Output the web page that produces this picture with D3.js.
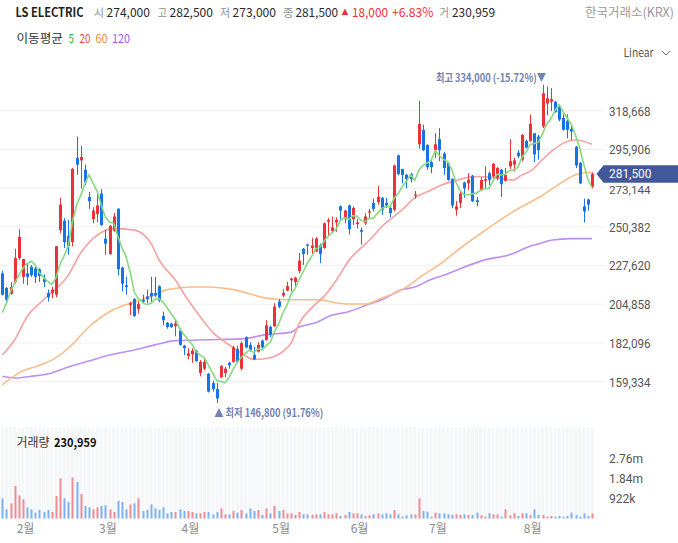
<!DOCTYPE html>
<html><head><meta charset="utf-8">
<script src="https://cdn.jsdelivr.net/npm/d3@7"></script>
<style>
html,body{margin:0;padding:0;background:#fff;}
svg{display:block;}
</style></head><body>
<svg id="chart" width="678" height="543"></svg>
<script>
// ---------------- DATA ----------------
const stockName = "LS ELECTRIC";
const exchangeName = "한국거래소(KRX)";
const lastOpen = 274000, lastHigh = 282500, lastLow = 273000, lastClose = 281500;
const lastChange = 18000, lastChangePct = 6.83, lastVolume = 230959;
const periodHigh = 334000, periodHighPct = -15.72;
const periodLow = 146800, periodLowPct = 91.76;
const maPeriods = [5, 20, 60, 120];

const opens = [223000,214500,211000,218000,232000,221000,223000,227000,226000,225500,220000,211500,211500,210500,248500,254000,245000,241500,291000,289500,284000,268000,255000,258000,270000,243500,234500,248000,261000,226500,216000,204500,208000,202000,207500,209500,211500,211500,215500,198000,194000,193500,192000,189500,180500,174500,175500,177500,164500,167000,164000,158500,155000,162000,164500,170500,171000,178500,167000,185500,181000,175000,177000,183500,184000,191500,192000,206500,210000,213000,219000,218000,224500,237500,240000,238000,236000,239500,238000,253500,248000,253000,262500,255000,263000,255000,252000,248500,252500,259000,264500,265000,267500,264500,261500,260500,292500,284500,281000,281500,269000,299000,307500,298500,288500,295500,302000,293500,288000,278500,260500,264500,276500,276000,280500,266000,272000,277500,282000,280000,279000,284000,277500,286000,287000,294000,290000,301000,301000,305500,303500,309500,323000,324000,324000,321000,314500,312500,308000,297500,288000,262500,266500,274000];
const highs = [224500,215000,218000,237500,249000,231500,229000,228000,227000,226000,222500,213500,215000,239000,267500,255500,254500,285000,303500,298000,287000,271000,262000,271000,272500,248500,251500,258500,261500,227000,221000,206500,208500,206500,210500,213500,221000,221000,216000,200500,194500,194000,195500,191000,181000,179000,179000,178000,172000,172500,164500,160000,158500,169000,168000,171000,180500,180500,183000,186000,182500,180000,182500,184000,195500,192500,205500,208000,213500,218000,220500,221000,235000,238000,240500,244000,244500,240500,253000,255500,256500,256000,263000,260500,263500,262500,255000,250000,258500,261000,267000,274500,268000,267500,262500,287000,293000,284500,281500,282000,271500,324500,310500,299000,291000,305500,308500,294500,288000,279000,265500,271000,277000,282000,281000,268000,279500,286000,283000,288000,285500,284500,285000,302000,291000,295500,305000,301500,316500,305500,304500,334000,333000,332000,324500,322000,316500,316500,309500,298000,288500,267000,267000,282500];
const lows = [210000,205500,210500,217000,231000,217000,216000,221000,217500,218000,215000,206500,208500,209000,246500,238000,234000,239000,281000,273000,275000,261000,252500,253000,251000,234000,234000,247500,222000,212500,210500,198500,197500,199500,205000,205500,205500,209000,206000,192500,190500,191000,186000,180500,175000,172500,170500,171000,162500,166000,153000,153500,146800,161500,162000,167000,170500,170500,166000,179000,177000,172000,176500,178500,183500,185500,191500,202500,209000,212500,212500,214500,223000,228000,234000,234000,235500,229000,237500,244500,247000,247500,254500,252500,246000,251500,249500,240000,251500,255500,259500,263500,257500,261500,256000,259500,281000,276000,273000,276500,267000,296500,295000,284000,282000,291000,289000,281000,277500,261500,257000,261500,267500,272000,265000,262500,271500,273000,275000,279500,278000,268000,277000,284500,283000,291000,289000,296500,300500,288500,290000,308500,316000,318500,317500,312500,307000,302500,301500,285000,275500,253000,260000,273000];
const closes = [210500,207500,215000,232000,244500,231500,221000,222000,221000,221500,218000,209000,213500,239000,263500,241500,239000,284500,287000,291500,276500,265500,260000,263000,251500,240500,251000,256500,225500,217000,215000,205500,198000,205000,206500,208000,209500,210000,207000,195500,191500,191500,193500,181000,179000,176000,177500,171500,171000,171000,153500,155000,149500,168500,167000,169000,179500,171000,182000,179500,178000,172500,181000,179500,192500,187000,203500,203500,211500,215500,220000,220500,230500,234500,239500,239500,243500,234500,252500,254500,250000,254500,260000,260000,249000,261500,253000,247500,256500,259500,261000,268000,260500,263000,258500,286500,281500,281000,278500,278500,269500,311000,295500,285500,285500,299000,295500,285000,278000,263000,262500,270000,273000,278000,265500,265000,278000,278500,278000,287500,285000,275500,281000,289000,289500,292000,304500,297000,311000,293000,295500,329000,326000,325500,318000,313500,307500,307500,306500,286500,276000,259500,263500,281500];
const volumes = [917000,417000,689000,1477000,1053000,871000,508000,417000,265000,386000,295000,386000,295000,1023000,1826000,917000,750000,1871000,1659000,1114000,568000,508000,417000,508000,568000,599000,417000,295000,796000,750000,417000,644000,689000,917000,341000,386000,644000,462000,386000,508000,235000,295000,295000,417000,341000,341000,295000,235000,235000,295000,295000,189000,295000,462000,189000,189000,341000,265000,386000,235000,462000,341000,386000,159000,462000,235000,568000,341000,386000,235000,235000,159000,295000,189000,189000,159000,189000,189000,295000,189000,189000,235000,114000,159000,295000,235000,235000,189000,114000,144000,189000,235000,189000,235000,189000,386000,189000,83000,144000,189000,189000,917000,341000,311000,83000,265000,235000,235000,189000,159000,189000,159000,189000,159000,159000,265000,144000,83000,235000,189000,189000,83000,417000,144000,235000,114000,235000,235000,159000,417000,159000,159000,83000,114000,83000,114000,83000,114000,265000,159000,83000,235000,114000,230959];

// moving averages: MA5 from closes (first 4 values); MA20/60/120 at sample candles
const ma5Head = [200000,205500,212500,217500];
const ma20Idx = [0,3,6,10,16,19,23,27,32,36,38,42,45,48,51,55,58,61,64,68,70,72,76,78,81,84,89,92,97,100,103,107,109,115,120,124,126,128,131,133,136,139,143];
const ma20Val = [175000,184000,197500,207500,222000,235000,245500,249500,248500,241000,231000,219000,207500,197500,188500,181000,176000,172500,173000,177000,182000,193500,205000,209500,219000,230500,242500,250500,260500,267500,271000,275500,277000,280000,279000,278000,281000,283000,290000,294500,299500,301500,299000];
const ma60Idx = [0,4,9,12,16,21,26,31,36,40,46,50,56,64,69,76,84,88,92,97,102,107,109,116,124,131,136,139,142,143];
const ma60Val = [157500,164500,169000,172000,179000,191500,200500,205500,209500,213500,215000,215000,213500,208500,207500,207500,205000,205000,208500,213500,222000,230000,234000,246500,259500,269000,277000,281000,282500,282000];
const ma120Idx = [0,3,7,12,16,21,26,32,37,42,50,58,64,70,72,76,80,84,89,92,97,100,104,107,117,123,128,131,133,138,143];
const ma120Val = [162500,161500,162500,164500,168000,171500,175000,178000,181000,183500,184000,184500,187000,188500,191500,194000,198500,200500,205000,207500,213500,215000,219500,222000,231000,234000,239000,241000,242500,243500,243500];

const priceTicks = [159334,182096,204858,227620,250382,273144,295906,318668];
const volTicks = [921600,1843200,2764800];
const volTickLabels = ["922k","1.84m","2.76m"];
const monthIdx = [6,26,46,68,87,106,129];
const monthLabels = ["2월","3월","4월","5월","6월","7월","8월"];

// ---------------- DRAW ----------------
const FONT = '"Noto Sans CJK KR","Noto Sans",Roboto,sans-serif';
const NUMFONT = 'Roboto,"Noto Sans",sans-serif';
const RED = '#ec3138', BLUE = '#1874e6';
const VRED = '#f08c91', VBLUE = '#7cb1f2';
const MA_LINE = ['#86d97f','#f7a0a0','#f9bd8c','#bd8ef3'];
const MA_TXT = ['#2fb52f','#f5434b','#f0902a','#9d57f0'];
const N = closes.length;
const svg = d3.select('#chart').style('font-family', FONT);

const x = d3.scaleLinear().domain([0, N - 1]).range([2.3, 592]);
const step = x(1) - x(0);
const y = d3.scaleLinear().domain([priceTicks[0], priceTicks[priceTicks.length - 1]]).range([381.7, 110.8]);
const yv = d3.scaleLinear().domain([0, volTicks[volTicks.length - 1]]).range([518.5, 457.7]);

const fmt = d3.format(',');
function txt(parent, s, px, py, w, opts = {}) {
  const t = parent.append('text').attr('x', px).attr('y', py).text(s)
    .attr('font-size', opts.size || 12.5).attr('fill', opts.fill || '#333')
    .attr('font-weight', opts.weight || 400);
  if (opts.family) t.attr('font-family', opts.family);
  if (w) t.attr('textLength', w).attr('lengthAdjust', 'spacingAndGlyphs');
  if (opts.anchor) t.attr('text-anchor', opts.anchor);
  return t;
}

// layers
const gGrid = svg.append('g');
const gVol = svg.append('g');
const gSlowMA = svg.append('g');
const gC = svg.append('g');
const gFastMA = svg.append('g');
const gAxes = svg.append('g');
const gText = svg.append('g');

// header
const G = '#8e8e8e';
txt(gText, stockName, 15.5, 16.5, 68, {weight: 700, fill: '#1e1e1e', size: 12.5});
txt(gText, '시', 94, 16.5, 10, {fill: G, size: 11.5});
txt(gText, fmt(lastOpen), 106.5, 16.5, 43.5, {fill: '#2a2a2a'});
txt(gText, '고', 157.5, 16.5, 9.5, {fill: G, size: 11.5});
txt(gText, fmt(lastHigh), 169.5, 16.5, 43.5, {fill: '#2a2a2a'});
txt(gText, '저', 220, 16.5, 10, {fill: G, size: 11.5});
txt(gText, fmt(lastLow), 232.5, 16.5, 43.5, {fill: '#2a2a2a'});
txt(gText, '종', 283, 16.5, 10.5, {fill: G, size: 11.5});
txt(gText, fmt(lastClose), 295.5, 16.5, 42.5, {fill: '#2a2a2a'});
txt(gText, '▲', 341.5, 14.5, 7, {fill: RED, size: 8});
txt(gText, fmt(lastChange), 352, 16.5, 36, {fill: RED});
txt(gText, '+' + lastChangePct.toFixed(2) + '%', 392, 16.5, 41.5, {fill: RED});
txt(gText, '거', 439.5, 16.5, 9.5, {fill: G, size: 11.5});
txt(gText, fmt(lastVolume), 452, 16.5, 43, {fill: '#2a2a2a'});
txt(gText, exchangeName, 585, 16.5, 89, {fill: '#9a9a9a'});

// legend
txt(gText, '이동평균', 16.5, 43, 46.5, {size: 12, fill: '#333'});
const legX = [68.5, 79.5, 95.5, 112], legW = [5.5, 11, 12, 18];
maPeriods.forEach((p, k) => txt(gText, String(p), legX[k], 43, legW[k], {size: 12, fill: MA_TXT[k]}));

// Linear selector
txt(gText, 'Linear', 623.5, 56.5, 30, {size: 11.5, fill: '#555'});
gText.append('path').attr('d', 'M662,51 L666,55 L670,51').attr('fill', 'none').attr('stroke', '#666').attr('stroke-width', 1);

// gridlines
gGrid.selectAll('line').data(priceTicks).join('line')
  .attr('x1', 0).attr('x2', 605).attr('y1', d => y(d)).attr('y2', d => y(d))
  .attr('stroke', '#eef0f3').attr('stroke-width', 1);

// volume pane columns
gGrid.selectAll('rect').data(d3.range(N)).join('rect')
  .attr('x', i => x(i) - step / 2 + 0.6).attr('width', step - 1.1)
  .attr('y', 427).attr('height', 91.5).attr('fill', '#f5f6fa');

const up = i => closes[i] >= opens[i];

// volume bars
gVol.selectAll('rect').data(d3.range(N)).join('rect')
  .attr('x', i => Math.round(x(i)) - 0.5).attr('width', 2)
  .attr('y', i => yv(volumes[i])).attr('height', i => yv(0) - yv(volumes[i]))
  .attr('fill', i => up(i) ? VRED : VBLUE);

// MA lines
const lineGen = d3.line().x(d => x(d[0])).y(d => y(d[1]));
const ma5 = closes.map((c, i) => i < 4 ? ma5Head[i] : d3.mean(closes.slice(i - 4, i + 1)));
const maSeries = [
  ma5.map((v, i) => [i, v]),
  ma20Idx.map((i, k) => [i, ma20Val[k]]),
  ma60Idx.map((i, k) => [i, ma60Val[k]]),
  ma120Idx.map((i, k) => [i, ma120Val[k]])
];
[3, 2, 1].forEach(k => {
  gSlowMA.append('path').attr('d', lineGen.curve(d3.curveMonotoneX)(maSeries[k]))
    .attr('fill', 'none').attr('stroke', MA_LINE[k]).attr('stroke-width', 1.6);
});
gFastMA.append('path').attr('d', lineGen.curve(d3.curveLinear)(maSeries[0]))
  .attr('fill', 'none').attr('stroke', MA_LINE[0]).attr('stroke-width', 1.6);

// candles
gC.selectAll('rect.w').data(d3.range(N)).join('rect').attr('class', 'w')
  .attr('x', i => Math.round(x(i))).attr('width', 1)
  .attr('y', i => y(highs[i])).attr('height', i => Math.max(1, y(lows[i]) - y(highs[i])))
  .attr('fill', i => up(i) ? RED : BLUE);
gC.selectAll('rect.b').data(d3.range(N)).join('rect').attr('class', 'b')
  .attr('x', i => Math.round(x(i)) - 1).attr('width', 3)
  .attr('y', i => y(Math.max(opens[i], closes[i])))
  .attr('height', i => Math.max(1.2, Math.abs(y(opens[i]) - y(closes[i]))))
  .attr('fill', i => up(i) ? RED : BLUE);

// price axis (right)
const yAxis = gAxes.append('g').attr('transform', 'translate(609,0)')
  .call(d3.axisRight(y).tickValues(priceTicks).tickSize(0).tickPadding(0).tickFormat(fmt));
yAxis.select('.domain').remove();
yAxis.selectAll('text').attr('font-size', 12).attr('fill', '#555').attr('font-family', NUMFONT)
  .attr('dy', '0.36em').attr('textLength', 41.5).attr('lengthAdjust', 'spacingAndGlyphs');
// the label sitting just under the current-price tag
yAxis.selectAll('.tick').filter(d => Math.abs(y(d) - y(lastClose)) < 16)
  .select('text').attr('dy', '0.47em').attr('font-size', 11.5);

// volume axis
const vAxis = gAxes.append('g').attr('transform', 'translate(609,0)')
  .call(d3.axisRight(yv).tickValues(volTicks).tickSize(0).tickPadding(0).tickFormat((d, k) => volTickLabels[k]));
vAxis.select('.domain').remove();
vAxis.selectAll('text').attr('font-size', 12).attr('fill', '#555').attr('font-family', NUMFONT).attr('dy', '0.36em');

// x axis
const xAxis = gAxes.append('g').attr('transform', 'translate(0,520)')
  .call(d3.axisBottom(x).tickValues(monthIdx.map(i => i - 0.5)).tickSize(0).tickPadding(0)
    .tickFormat((d, k) => monthLabels[k]));
xAxis.select('.domain').remove();
xAxis.selectAll('text').attr('font-size', 12).attr('fill', '#8a8a8a').attr('font-family', FONT).attr('dy', '1.05em');

// current price tag
const ty = y(lastClose);
gText.append('path')
  .attr('d', `M596.5,${ty} L603.5,${ty - 8.8} L678,${ty - 8.8} L678,${ty + 8.8} L603.5,${ty + 8.8} Z`)
  .attr('fill', '#41589a');
txt(gText, fmt(lastClose), 609, ty + 4.3, 42.5, {size: 12, fill: '#fff', family: NUMFONT});

// high / low annotations
const hiIdx = highs.indexOf(periodHigh), loIdx = lows.indexOf(periodLow);
txt(gText, `최고 ${fmt(periodHigh)} (${periodHighPct.toFixed(2)}%)▼`, x(hiIdx) + 3.5, y(periodHigh) - 2.5, 110,
  {size: 11, fill: '#7082b0', weight: 600, anchor: 'end'});
txt(gText, `▲ 최저 ${fmt(periodLow)} (${periodLowPct.toFixed(2)}%)`, x(loIdx) - 2.5, y(periodLow) + 13.5, 109,
  {size: 11, fill: '#7082b0', weight: 600});

// volume label
txt(gText, '거래량', 16.5, 446.5, 33, {size: 12, fill: '#333'});
txt(gText, fmt(lastVolume), 54, 446.5, 42.5, {size: 12, fill: '#111', weight: 700});
</script>
</body></html>
